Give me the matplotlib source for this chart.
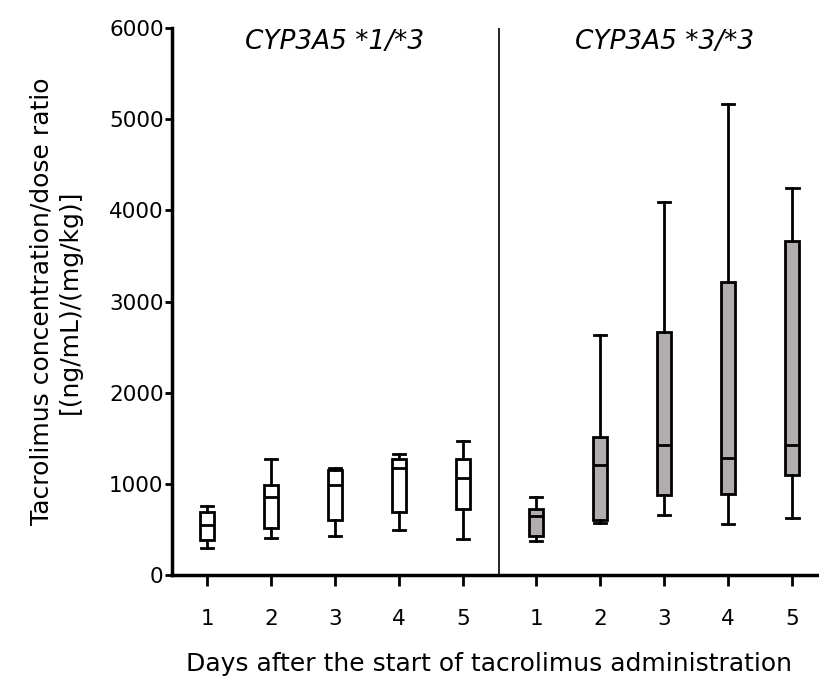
import numpy as np
import matplotlib.pyplot as plt

# box statistics: whisker low, Q1, median, Q3, whisker high
days = ["1", "2", "3", "4", "5"]

het_low = [299, 409, 428, 501, 395]
het_q1 = [387, 519, 611, 691, 724]
het_med = [556, 863, 987, 1181, 1071]
het_q3 = [694, 987, 1152, 1276, 1276]
het_high = [757, 1272, 1177, 1331, 1477]

hom_low = [376, 578, 658, 567, 629]
hom_q1 = [428, 611, 877, 896, 1097]
hom_med = [647, 1207, 1426, 1283, 1426]
hom_q3 = [724, 1521, 2662, 3210, 3663]
hom_high = [859, 2632, 4088, 5166, 4241]

group_titles = ["CYP3A5 *1/*3", "CYP3A5 *3/*3"]


def make_stats(low, q1, med, q3, high):
    stats = []
    for i in range(len(low)):
        stats.append(dict(whislo=low[i], q1=q1[i], med=med[i], q3=q3[i],
                          whishi=high[i], fliers=[]))
    return stats


fig = plt.figure(figsize=(8.19, 6.84), dpi=100)
ax = fig.add_axes([0.21, 0.159, 0.79, 0.8])

pos_left = np.arange(1, 6)
pos_right = pos_left + 5.14
divider = 5.5625

line_kw = dict(color="black", linewidth=2)

ax.bxp(make_stats(het_low, het_q1, het_med, het_q3, het_high),
       positions=pos_left, widths=0.22, patch_artist=True, showfliers=False,
       boxprops=dict(facecolor="white", edgecolor="black", linewidth=2),
       medianprops=line_kw, whiskerprops=line_kw, capprops=line_kw,
       capwidths=0.2)

ax.bxp(make_stats(hom_low, hom_q1, hom_med, hom_q3, hom_high),
       positions=pos_right, widths=0.22, patch_artist=True, showfliers=False,
       boxprops=dict(facecolor="#b2acac", edgecolor="black", linewidth=2),
       medianprops=line_kw, whiskerprops=line_kw, capprops=line_kw,
       capwidths=0.2)

ax.axvline(divider, color="black", linewidth=1.2)

ax.set_xlim(0.453, 10.56)
ax.set_ylim(0, 6000)
ax.set_yticks(np.arange(0, 6001, 1000))
ax.set_xticks(np.concatenate([pos_left, pos_right]))
ax.set_xticklabels(days + days)

for s in ["top", "right"]:
    ax.spines[s].set_visible(False)
ax.spines["left"].set_linewidth(2.5)
ax.spines["bottom"].set_linewidth(2.5)
ax.tick_params(axis="y", length=5, width=2, labelsize=15.5, pad=1)
ax.tick_params(axis="x", length=8, width=2, labelsize=15.5, pad=16)

ax.text(3, 5850, group_titles[0], style="italic", fontsize=19,
        ha="center", va="center")
ax.text(pos_right[2], 5850, group_titles[1], style="italic", fontsize=19,
        ha="center", va="center")

ax.set_ylabel("Tacrolimus concentration/dose ratio\n[(ng/mL)/(mg/kg)]",
              fontsize=18, linespacing=1.25)
ax.yaxis.set_label_coords(-0.139, 0.5)
ax.set_xlabel("Days after the start of tacrolimus administration",
              fontsize=18)
ax.xaxis.set_label_coords(0.49, -0.141)

fig.savefig("out.png", dpi=100)
